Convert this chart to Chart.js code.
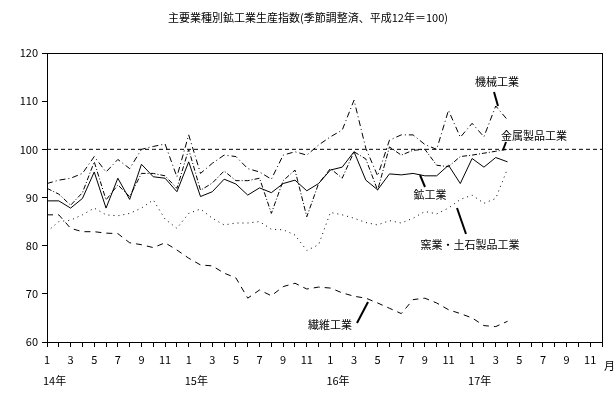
<!DOCTYPE html>
<html>
<head>
<meta charset="utf-8">
<script src="https://cdn.jsdelivr.net/npm/chart.js@4"></script>
<style>
  body { margin: 0; background: #fff; }
  #wrap { width: 616px; height: 418px; }
</style>
</head>
<body>
<div id="wrap"><canvas id="chart" width="616" height="418"></canvas></div>
<script>
// months 14年1月 .. 17年12月 (axis), data 14年1月 .. 17年4月
const months = [];
for (let y = 0; y < 4; y++) for (let m = 1; m <= 12; m++) months.push(String(m));
const yearLabels = ['14年', '15年', '16年', '17年'];

const mining = [89.3, 89.3, 87.8, 89.8, 95.3, 87.8, 94.0, 89.6, 96.9, 94.3, 94.0, 91.2, 97.4, 90.2, 91.2, 93.8, 92.8, 90.5, 92.0, 91.0, 92.9, 93.6, 91.4, 92.9, 95.7, 96.3, 99.5, 93.6, 91.6, 94.9, 94.7, 95.0, 94.5, 94.5, 96.7, 92.9, 98.1, 96.3, 98.3, 97.4];
const machinery = [92.9, 93.6, 94.0, 95.0, 98.5, 95.3, 97.9, 96.0, 100.0, 100.6, 101.1, 94.3, 103.0, 95.0, 97.1, 98.8, 98.5, 96.0, 95.3, 93.8, 98.8, 99.5, 98.8, 100.9, 102.6, 104.0, 110.2, 100.2, 94.5, 101.9, 103.0, 103.0, 101.0, 100.0, 108.1, 102.5, 105.4, 102.6, 109.0, 106.1];
const metal = [91.9, 90.7, 88.4, 91.0, 97.4, 89.5, 92.6, 90.2, 95.0, 95.0, 94.5, 91.9, 100.0, 91.5, 93.0, 95.5, 93.5, 93.5, 94.0, 86.7, 93.5, 95.7, 86.0, 92.9, 96.0, 94.0, 99.5, 98.0, 91.5, 100.5, 98.8, 99.8, 100.0, 96.7, 96.4, 98.5, 98.8, 99.2, 99.6, 100.0];
const ceramics = [82.9, 85.0, 85.3, 86.4, 87.8, 86.4, 86.2, 86.7, 87.8, 89.5, 85.5, 83.6, 86.7, 87.6, 85.7, 84.3, 84.7, 84.7, 85.0, 83.4, 83.3, 82.2, 79.0, 80.2, 86.9, 86.4, 85.7, 84.8, 84.3, 85.2, 84.7, 85.7, 87.1, 86.6, 87.8, 89.6, 90.5, 88.8, 89.8, 96.0];
const textiles = [86.4, 86.4, 83.6, 82.9, 82.9, 82.6, 82.5, 80.6, 80.2, 79.6, 80.6, 79.1, 77.4, 76.0, 75.8, 74.3, 73.3, 69.1, 70.8, 69.6, 71.5, 72.2, 71.0, 71.4, 71.2, 70.2, 69.5, 69.1, 68.1, 67.0, 65.9, 68.8, 69.1, 68.1, 66.7, 65.9, 65.0, 63.4, 63.2, 64.3];
const baseline = months.map(() => 100);

const FONT = '"Noto Sans CJK JP", "DejaVu Sans", sans-serif';

// series name labels with leader lines: [text, textX, textY, lineFrom, lineTo]
const seriesLabels = [
  ['機械工業', 497, 82, [494, 92], [498, 106]],
  ['金属製品工業', 534, 136, [506, 142], [503, 150]],
  ['鉱工業', 430, 195, [420, 175], [425, 187]],
  ['窯業・土石製品工業', 470, 245, [457, 208], [466, 234]],
  ['繊維工業', 330, 325, [357, 323], [368, 302]]
];

const decorPlugin = {
  id: 'decor',
  afterDraw(chart) {
    const ctx = chart.ctx;
    const a = chart.chartArea;
    const xs = chart.scales.x;
    ctx.save();
    ctx.fillStyle = '#000';
    ctx.strokeStyle = '#000';
    // title
    ctx.font = '11px ' + FONT;
    ctx.textAlign = 'center';
    ctx.textBaseline = 'middle';
    ctx.fillText('主要業種別鉱工業生産指数(季節調整済、平成12年＝100)', 308, 18);
    // frame
    ctx.lineWidth = 1;
    ctx.strokeRect(Math.round(a.left) + 0.5, Math.round(a.top) + 0.5, Math.round(a.right - a.left), Math.round(a.bottom - a.top));
    // year labels
    ctx.textAlign = 'left';
    yearLabels.forEach((t, k) => {
      ctx.fillText(t, xs.getPixelForValue(k * 12) - 4, 381);
    });
    ctx.fillText('月', 604, 366);
    // series labels
    ctx.textAlign = 'center';
    seriesLabels.forEach(([t, x, y, p0, p1]) => {
      ctx.fillText(t, x, y);
      ctx.lineWidth = 2;
      ctx.beginPath();
      ctx.moveTo(p0[0], p0[1]);
      ctx.lineTo(p1[0], p1[1]);
      ctx.stroke();
    });
    ctx.restore();
  }
};

function line(data, dash) {
  return {
    data: data,
    borderColor: '#000',
    borderWidth: 1,
    borderDash: dash,
    pointRadius: 0,
    fill: false,
    tension: 0
  };
}

new Chart(document.getElementById('chart').getContext('2d'), {
  type: 'line',
  plugins: [decorPlugin],
  data: {
    labels: months,
    datasets: [
      line(baseline, [4, 3]),
      line(mining, []),
      line(machinery, [6, 3, 1, 3]),
      line(metal, [5, 2, 1, 2]),
      line(ceramics, [1, 4]),
      line(textiles, [6, 5])
    ]
  },
  options: {
    responsive: false,
    animation: false,
    devicePixelRatio: 1,
    layout: { padding: { top: 53, right: 14, left: 0, bottom: 0 } },
    plugins: { legend: { display: false }, tooltip: { enabled: false }, title: { display: false } },
    scales: {
      x: {
        type: 'category',
        offset: false,
        afterFit: (s) => { s.height = 418 - 342; },
        grid: { drawOnChartArea: false, tickLength: 5, color: '#000' },
        border: { color: '#000' },
        ticks: {
          autoSkip: false,
          maxRotation: 0,
          color: '#000',
          font: { size: 11, family: FONT },
          padding: 6,
          callback: (v, i) => (i % 2 === 0 ? months[i] : '')
        }
      },
      y: {
        min: 60,
        max: 120,
        afterFit: (s) => { s.width = 47; },
        grid: { drawOnChartArea: false, tickLength: 5, color: '#000' },
        border: { color: '#000' },
        ticks: { stepSize: 10, color: '#000', font: { size: 11, family: FONT }, padding: 4 }
      }
    }
  }
});
</script>
</body>
</html>
